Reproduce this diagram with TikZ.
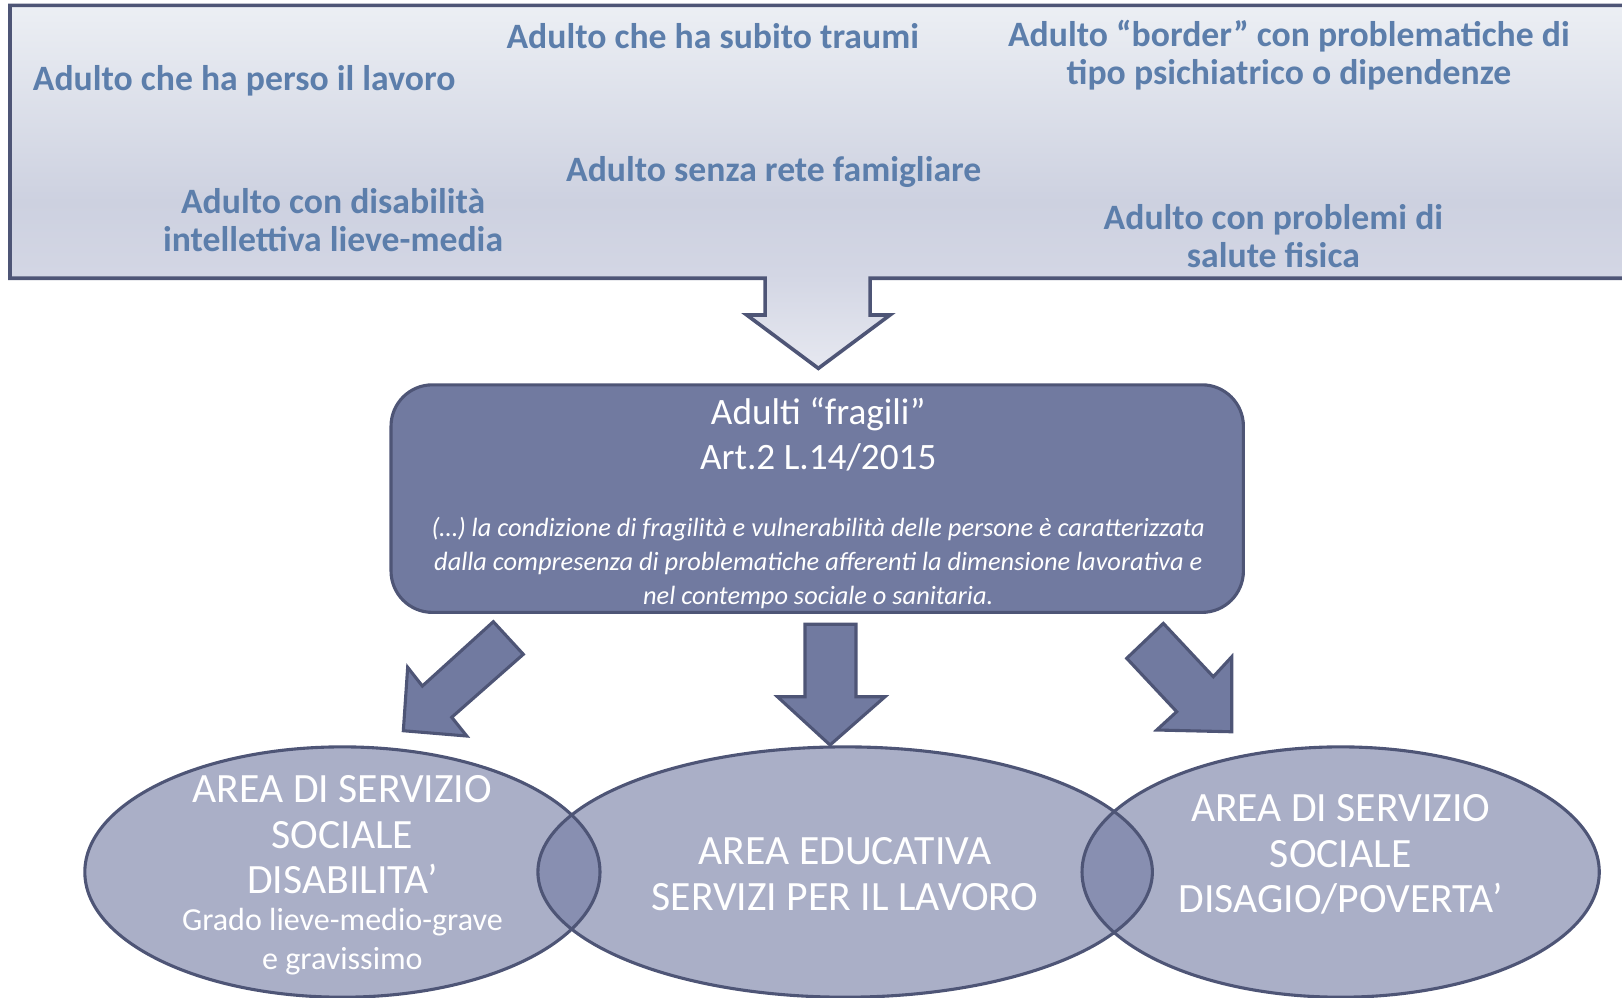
\documentclass[tikz,border=0pt]{standalone}
\usepackage{fontspec}
\setmainfont{Carlito}
\definecolor{topblue}{RGB}{92,126,171}
\definecolor{boxfill}{RGB}{113,122,160}
\definecolor{edge}{RGB}{78,85,118}
\definecolor{ellfill}{RGB}{113,121,162}
\definecolor{gtop}{RGB}{236,239,244}
\definecolor{gmid}{RGB}{205,209,224}
\definecolor{glow}{RGB}{211,214,228}
\definecolor{gbot}{RGB}{230,232,240}
\pgfdeclareverticalshading{panelshade}{100bp}{color(0bp)=(gbot); color(25bp)=(gbot); color(38bp)=(glow); color(48bp)=(gmid); color(75bp)=(gtop); color(100bp)=(gtop)}
\tikzset{
  toptext/.style={font=\fontsize{34.5}{37}\selectfont\bfseries, text=topblue, align=center, inner sep=0pt},
  titletext/.style={font=\fontsize{36}{43}\selectfont, text=white, align=center, inner sep=0pt},
  itext/.style={font=\fontsize{25.5}{33}\selectfont\itshape, text=white, align=center, inner sep=0pt},
  elltext/.style={font=\fontsize{40.3}{44}\selectfont, text=white, align=center, inner sep=0pt},
  ellsmall/.style={font=\fontsize{31}{38}\selectfont, text=white, align=center, inner sep=0pt},
  blockarrow/.style={draw=edge, fill=boxfill, line width=3pt, line join=miter},
  ellfillstyle/.style={fill=ellfill, fill opacity=0.6},
  elledge/.style={draw=edge, line width=3pt}
}
\begin{document}
\begin{tikzpicture}[x=1pt,y=-1pt]
\useasboundingbox (0,0) rectangle (1568,964);
\clip (0,0) rectangle (1568,964);
% top panel with arrow
\draw[draw=edge, line width=3.5pt, shading=panelshade, line join=miter]
  (9.7,5.2) -- (1600,5.2) -- (1600,269) -- (841.1,269) -- (841.1,304.5) -- (860.4,304.5)
  -- (791.1,356.1) -- (721.9,304.5) -- (739.6,304.5) -- (739.6,269) -- (9.7,269) -- cycle;
% top texts
\node[toptext] (t1) at (236,78) {Adulto che ha perso il lavoro};
\node[toptext] (t2) at (689,35) {Adulto che ha subito traumi};
\node[toptext] (t3) at (1246,53) {Adulto “border” con problematiche di\\tipo psichiatrico o dipendenze};
\node[toptext] (t4) at (748,166) {Adulto senza rete famigliare};
\node[toptext] (t5) at (322,213) {Adulto con disabilità\\intellettiva lieve-media};
\node[toptext] (t6) at (1231,228) {Adulto con problemi di\\salute fisica};
% central box
\node[draw=edge, fill=boxfill, line width=3pt, rounded corners=40pt, minimum width=824pt, minimum height=220pt, inner sep=0pt] (box) at (790,482) {};
\node[titletext] (title) at (791,420) {Adulti “fragili”\\Art.2 L.14/2015};
\node[itext] (quote) at (791,544) {(…) la condizione di fragilità e vulnerabilità delle persone è caratterizzata\\dalla compresenza di problematiche afferenti la dimensione lavorativa e\\nel contempo sociale o sanitaria.};
% ellipses
\path[ellfillstyle] (331,843) ellipse [x radius=249, y radius=121];
\path[ellfillstyle] (817,843) ellipse [x radius=297, y radius=121];
\path[ellfillstyle] (1296,843) ellipse [x radius=250, y radius=121];
\path[elledge] (331,843) ellipse [x radius=249, y radius=121];
\path[elledge] (817,843) ellipse [x radius=297, y radius=121];
\path[elledge] (1296,843) ellipse [x radius=250, y radius=121];
% block arrows
\draw[blockarrow] (476.9,601.0) -- (505.9,632.5) -- (436.7,693.4) -- (451.2,711.5) -- (389.9,706.4) -- (394.1,645.1) -- (408.3,663.2) -- cycle;
\draw[blockarrow] (778.2,603.5) -- (827.5,603.5) -- (827.5,673.5) -- (855.6,673.5) -- (802.4,720.2) -- (751.5,673.5) -- (778.2,673.5) -- cycle;
\draw[blockarrow] (1124.6,602.6) -- (1172.9,654.2) -- (1190.7,634.9) -- (1190.7,707.4) -- (1118.2,705.7) -- (1137.5,688.0) -- (1089.2,636.4) -- cycle;
% ellipse texts
\node[elltext] (e1) at (331,807) {AREA DI SERVIZIO\\SOCIALE\\DISABILITA’};
\node[ellsmall] (e1b) at (331,910) {Grado lieve-medio-grave\\e gravissimo};
\node[elltext] (e2) at (817,845) {AREA EDUCATIVA\\SERVIZI PER IL LAVORO};
\node[elltext] (e3) at (1296,826) {AREA DI SERVIZIO\\SOCIALE\\DISAGIO/POVERTA’};
\end{tikzpicture}
\end{document}
